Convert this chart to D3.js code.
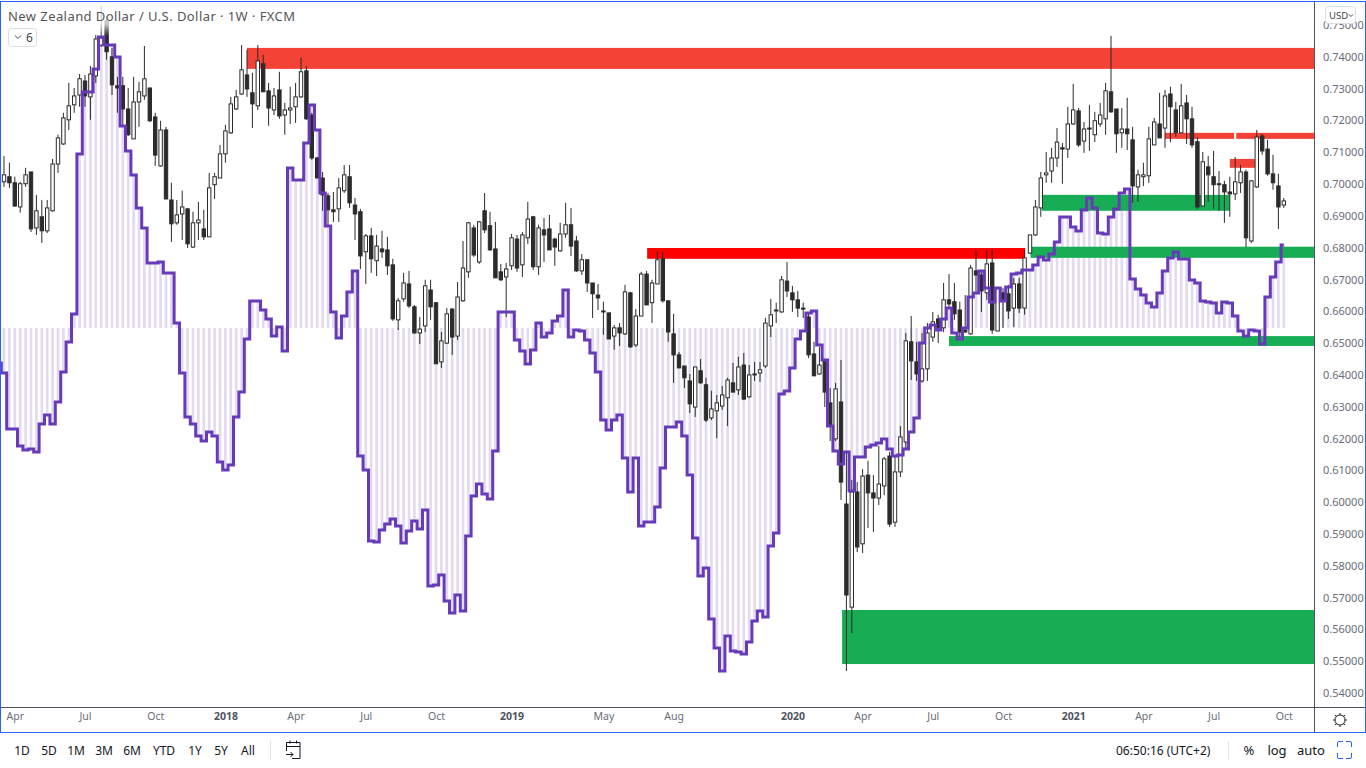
<!DOCTYPE html>
<html>
<head>
<meta charset="utf-8">
<title>NZD/USD 1W</title>
<script src="https://cdn.jsdelivr.net/npm/d3@7"></script>
<style>
  html, body { margin: 0; padding: 0; background: #fff; }
  svg { display: block; }
  text { font-family: "Noto Sans", sans-serif; }
</style>
</head>
<body>
<svg id="chart" width="1366" height="768"></svg>
<script>
// weekly quotes in 1/10000 of a USD, first candle = Mar 2017
var opens = [
  7007,7023,7004,6928,7001,7038,6862,6897,6853,6916,
  7063,7126,7202,7249,7280,7324,7274,7340,7437,7513,
  7400,7309,7309,7236,7142,7258,7277,7302,7211,7057,
  7170,6950,6878,6906,6922,6802,6878,6859,6834,6998,
  7019,7095,7161,7236,7283,7343,7287,7246,7378,7293,
  7233,7296,7217,7233,7243,7274,7356,7217,7082,7019,
  6963,6919,6922,6979,7023,6934,6913,6787,6837,6759,
  6796,6793,6746,6573,6639,6686,6614,6532,6554,6667,
  6627,6441,6500,6607,6522,6633,6724,6862,6755,6916,
  6869,6796,6724,6708,6743,6827,6746,6831,6897,6740,
  6856,6859,6827,6790,6843,6872,6821,6727,6762,6689,
  6651,6601,6595,6522,6548,6529,6658,6494,6585,6717,
  6627,6686,6765,6633,6529,6463,6428,6381,6299,6413,
  6369,6265,6287,6302,6328,6375,6353,6431,6331,6403,
  6406,6428,6554,6604,6598,6695,6658,6636,6610,6582,
  6466,6403,6447,6312,6199,6315,5994,5670,6032,5869,
  6085,6029,6013,6051,6145,5937,6095,6189,6504,6441,
  6381,6419,6519,6576,6548,6636,6630,6604,6541,6529,
  6727,6714,6658,6752,6538,6658,6655,6610,6686,6610,
  6783,6840,6925,7029,7041,7082,7114,7110,7189,7230,
  7135,7176,7155,7189,7205,7290,7236,7161,7173,7139,
  6991,7023,7026,7123,7189,7176,7283,7233,7161,7255,
  7205,7133,6931,7054,7023,7001,6998,6975,6969,7004,
  7038,6821,6991,7151,7110,7032,6994,6934
];
var closes = [
  7029,7004,6931,7001,7029,6859,6916,6853,6925,7063,
  7145,7208,7246,7277,7331,7277,7346,7456,7459,7416,
  7312,7302,7236,7155,7258,7290,7331,7199,7091,7170,
  6953,6875,6903,6928,6812,6878,6887,6834,6988,7023,
  7095,7167,7252,7274,7359,7299,7252,7387,7290,7239,
  7277,7214,7233,7239,7274,7353,7205,7082,7019,6966,
  6919,6913,6988,7029,6941,6906,6774,6837,6765,6805,
  6787,6743,6576,6633,6689,6617,6532,6544,6680,6614,
  6435,6507,6592,6519,6645,6736,6878,6777,6881,6856,
  6793,6705,6699,6733,6831,6736,6840,6890,6740,6862,
  6840,6793,6802,6843,6872,6805,6727,6762,6689,6655,
  6642,6598,6513,6548,6532,6661,6488,6585,6717,6620,
  6689,6762,6633,6535,6463,6422,6391,6309,6425,6375,
  6258,6293,6312,6337,6384,6346,6425,6324,6400,6400,
  6416,6563,6589,6601,6699,6664,6636,6610,6607,6463,
  6397,6431,6346,6243,6356,6063,5708,6032,5859,6082,
  6029,6013,6057,6136,5931,6095,6205,6507,6444,6403,
  6419,6532,6567,6548,6636,6623,6592,6535,6535,6736,
  6714,6664,6749,6541,6673,6636,6601,6686,6610,6768,
  6840,6928,7019,7035,7082,7132,7110,7189,7233,7123,
  7173,7173,7199,7217,7293,7227,7158,7173,7158,6994,
  7029,7029,7142,7195,7145,7277,7243,7161,7246,7205,
  7123,6928,7070,7029,6998,6998,6975,6969,7007,7038,
  6831,7010,7148,7104,7032,7004,6928,6947
];
var highs = [
  7088,7067,7023,7007,7051,7038,6966,6950,6950,7079,
  7155,7224,7318,7302,7346,7343,7371,7469,7560,7526,
  7428,7337,7337,7302,7337,7321,7434,7302,7224,7199,
  7180,7004,6950,6979,6925,6913,6944,6919,7035,7035,
  7123,7186,7274,7296,7437,7422,7350,7437,7406,7318,
  7302,7353,7255,7306,7318,7397,7371,7224,7085,7038,
  6972,6975,7019,7060,7060,6956,6922,6843,6862,6840,
  6853,6834,6765,6642,6721,6727,6620,6582,6699,6699,
  6627,6535,6610,6610,6692,6821,6881,6872,6884,6972,
  6913,6881,6749,6752,6843,6840,6849,6944,6900,6872,
  6894,6903,6831,6878,6941,6925,6837,6780,6762,6689,
  6686,6630,6595,6557,6563,6683,6661,6607,6724,6727,
  6699,6790,6787,6633,6592,6472,6428,6403,6425,6450,
  6391,6350,6337,6365,6391,6438,6457,6469,6431,6441,
  6441,6579,6639,6627,6711,6755,6680,6664,6627,6598,
  6504,6488,6450,6359,6375,6447,6158,6070,6063,6104,
  6130,6085,6177,6142,6158,6148,6239,6532,6585,6504,
  6532,6563,6598,6589,6689,6717,6689,6630,6651,6746,
  6793,6730,6793,6793,6673,6673,6683,6705,6705,6793,
  6840,6950,7038,7101,7114,7176,7129,7243,7315,7239,
  7195,7249,7227,7255,7318,7466,7236,7239,7271,7180,
  7045,7067,7180,7208,7287,7296,7306,7258,7315,7280,
  7243,7148,7101,7088,7104,7041,7010,7023,7085,7060,
  7045,7013,7170,7158,7139,7092,7032,6956
];
var lows = [
  6991,6988,6928,6910,6991,6849,6840,6815,6846,6913,
  7035,7123,7170,7224,7243,7243,7202,7318,7431,7391,
  7280,7224,7180,7151,7142,7180,7265,7195,7057,7054,
  6953,6818,6872,6824,6799,6799,6824,6824,6834,6953,
  7019,7067,7158,7233,7280,7274,7176,7233,7290,7183,
  7217,7205,7155,7189,7192,7271,7202,7076,7019,6916,
  6865,6881,6881,6972,6925,6824,6733,6686,6721,6711,
  6768,6714,6570,6541,6630,6610,6529,6497,6535,6573,
  6435,6422,6497,6463,6510,6630,6705,6771,6749,6846,
  6790,6705,6695,6582,6730,6724,6708,6812,6730,6714,
  6755,6793,6743,6787,6831,6774,6724,6714,6661,6579,
  6604,6526,6513,6479,6491,6526,6485,6488,6585,6620,
  6563,6686,6627,6504,6375,6422,6359,6280,6268,6372,
  6252,6258,6201,6290,6239,6346,6337,6321,6328,6381,
  6378,6422,6519,6563,6595,6645,6598,6582,6579,6453,
  6397,6400,6299,6192,6192,6007,5469,5588,5843,5840,
  5919,5906,5991,6022,5922,5922,6079,6170,6384,6381,
  6375,6381,6504,6500,6535,6610,6573,6519,6532,6526,
  6661,6598,6636,6529,6538,6548,6576,6551,6595,6589,
  6780,6837,6897,7004,7004,7054,7001,7082,7186,7117,
  7098,7104,7132,7180,7155,7224,7098,7114,7107,6941,
  6944,6994,7004,7123,7145,7114,7132,7148,7161,7126,
  7114,6922,6931,6944,6922,6916,6878,6897,6950,6972,
  6802,6815,6988,7092,7026,6982,6859,6925
];

// purple step indicator, one value a week
var oscBefore = -17.5;
var oscValues = [
  -22.5,-50.5,-50.5,-59,-61,-60.5,-62,-48,-43.5,-48,
  -37,-22,-7,7,87,118,118,129.5,145.5,141.5,
  141.5,135.5,101,88.5,76.5,60,50,32.5,32.5,33,
  27.5,27.5,2.5,-22.5,-44.5,-48,-54,-56.5,-52,-54,
  -67,-71,-68.5,-44.5,-32,-5.5,13.5,13.5,9,4.5,
  -4,.5,-11.5,80,74,74,92.5,111.5,99,67.5,
  51,8,-5,6,18,28.5,-64,-71,-106.5,-107,
  -101,-98,-95.5,-99,-107.5,-101.5,-96.5,-100.5,-91,-129,
  -128.5,-123.5,-136.5,-142.5,-133.5,-141.5,-104,-84,-78,-83,
  -85.5,-61.5,8,8,8,-6,-11.5,-18,-11,2.5,
  -4.5,-2.5,3.5,6,19,-4.5,-1,-1.5,-6,-12.5,
  -22,-46,-51,-46,-43.5,-65,-82,-65,-99,-97,
  -97,-89.5,-70,-49.5,-49.5,-47,-54,-73.5,-105,-124,
  -120,-145.5,-160,-171.5,-154,-161.5,-162,-163,-157,-146.5,
  -141.5,-144.5,-109,-102.5,-33,-31.5,-20,-5.5,-1.5,7.5,
  8.5,-8.5,-16,-49,-61.5,-68,-62,-81.5,-64.5,-64.5,
  -59.5,-58.5,-57.5,-55.5,-60.5,-64,-63.5,-60.5,-52,-45,
  -7.5,0,1.5,-1,4.5,10,-2.5,-5.5,0,15.5,
  17.5,28.5,20,13,20,13.5,20.5,27,27.5,29,
  29,31.5,35.5,34,37,43,55.5,55.5,50.5,48.5,
  59,65,60,47.5,47,55.5,59.5,67.5,69.5,24.5,
  19.5,16.5,12.5,10.5,17.5,28.5,35,38,34.5,34.5,
  24,22.5,13.5,13,12.5,7.5,13,12.5,6,-1.5,
  -4,-1,-1.5,-8,15.5,25.5,33,41.5
];

// supply / demand boxes: start week, end week, top and bottom quote, colour
var zoneFrom   = [45, 119.1, 215, 228.2, 227, 155.2, 175, 190.1, 192.2];
var zoneTo     = [243, 189.1, 227.8, 243, 231.7, 243, 243, 243, 227];
var zoneTop    = [7428, 6799, 7161, 7161, 7079, 5661, 6522, 6803, 6966];
var zoneBottom = [7362, 6765, 7142, 7142, 7051, 5491, 6491, 6768, 6916];
var zoneColor  = ['#f44336','#ff0000','#f44336','#f44336','#f44336','#17ad54','#17ad54','#17ad54','#17ad54'];

var priceTicks = [];
for (var t = 54; t <= 75; t++) priceTicks.push(t / 100);

var timeTickWeeks  = [2,15,28,41,54,67,80,94,111,124,146,159,172,185,198,211,224,237];
var timeTickLabels = ['Apr','Jul','Oct','2018','Apr','Jul','Oct','2019','May','Aug','2020','Apr','Jul','Oct','2021','Apr','Jul','Oct'];

var rangeButtons = ['1D','5D','1M','3M','6M','YTD','1Y','5Y','All'];
var rangeButtonX = [22,49,76,104,132,164,195,221,248];

var plotRight = 1314, plotBottom = 707;

var svg = d3.select('#chart');

var x = d3.scaleLinear().domain([0, 237]).range([4, 1283.8]);
var y = d3.scaleLinear().domain([0.54, 0.75]).range([693, 25]);
var yOsc = d3.scaleLinear().domain([-200, 150]).range([728, 28]);

function quote(v){ return y(v / 10000); }

var defs = svg.append('defs');
defs.append('clipPath').attr('id', 'plot')
  .append('rect').attr('x', 1).attr('y', 2).attr('width', plotRight - 1).attr('height', plotBottom - 2);
var fade = defs.append('linearGradient').attr('id', 'legendFade')
  .attr('x1', 0).attr('x2', 0).attr('y1', 0).attr('y2', 1);
fade.append('stop').attr('offset', '0.6').attr('stop-color', '#fff').attr('stop-opacity', 0.75);
fade.append('stop').attr('offset', '1').attr('stop-color', '#fff').attr('stop-opacity', 0);

var plot = svg.append('g').attr('clip-path', 'url(#plot)');

// histogram
plot.append('g').selectAll('rect')
  .data(oscValues)
  .join('rect')
  .attr('x', function(d, i){ return x(i) - 1.3; })
  .attr('width', 2.6)
  .attr('y', function(d){ return Math.min(yOsc(d), yOsc(0)); })
  .attr('height', function(d){ return Math.abs(yOsc(d) - yOsc(0)); })
  .attr('fill', '#e1daf1');

// zones
plot.append('g').selectAll('rect')
  .data(zoneFrom)
  .join('rect')
  .attr('x', function(d){ return x(d); })
  .attr('width', function(d, i){ return x(zoneTo[i]) - x(d); })
  .attr('y', function(d, i){ return quote(zoneTop[i]); })
  .attr('height', function(d, i){ return quote(zoneBottom[i]) - quote(zoneTop[i]); })
  .attr('fill', function(d, i){ return zoneColor[i]; });

// candles
var candles = plot.append('g').selectAll('g')
  .data(opens)
  .join('g');

candles.append('line')
  .attr('x1', function(d, i){ return x(i); })
  .attr('x2', function(d, i){ return x(i); })
  .attr('y1', function(d, i){ return quote(highs[i]); })
  .attr('y2', function(d, i){ return quote(lows[i]); })
  .attr('stroke', '#2b2b2b');

candles.append('rect')
  .attr('x', function(d, i){ return x(i) - 1.7; })
  .attr('width', 3.4)
  .attr('y', function(d, i){ return quote(Math.max(d, closes[i])); })
  .attr('height', function(d, i){ return Math.max(1, Math.abs(quote(d) - quote(closes[i]))); })
  .attr('fill', function(d, i){ return closes[i] >= d ? '#fff' : '#2b2b2b'; })
  .attr('stroke', '#2b2b2b');

// indicator line
var stepLine = d3.line()
  .x(function(d, i){ return x(i - 1); })
  .y(function(d){ return yOsc(d); })
  .curve(d3.curveStep);

plot.append('path')
  .datum([oscBefore].concat(oscValues))
  .attr('d', stepLine)
  .attr('fill', 'none')
  .attr('stroke', '#673ab7')
  .attr('stroke-width', 3);

// legend
svg.append('rect').attr('x', 5).attr('y', 6).attr('width', 325).attr('height', 30)
  .attr('fill', 'url(#legendFade)');
svg.append('text').attr('x', 8).attr('y', 20.5)
  .attr('font-size', 13).attr('letter-spacing', 0.43).attr('fill', '#555')
  .text('New Zealand Dollar / U.S. Dollar · 1W · FXCM');
svg.append('rect').attr('x', 8.5).attr('y', 28.5).attr('width', 28).attr('height', 18).attr('rx', 3)
  .attr('fill', '#fff').attr('stroke', '#dcdde2');
svg.append('path').attr('d', 'M15 35.5l3 3 3-3').attr('fill', 'none').attr('stroke', '#444');
svg.append('text').attr('x', 26).attr('y', 41.5).attr('font-size', 12).attr('fill', '#444').text('6');

// frame
svg.append('line').attr('x1', plotRight + 0.5).attr('x2', plotRight + 0.5).attr('y1', 1).attr('y2', 732)
  .attr('stroke', '#50535e');
svg.append('line').attr('x1', 1).attr('x2', 1365).attr('y1', plotBottom + 0.5).attr('y2', plotBottom + 0.5)
  .attr('stroke', '#50535e');
svg.append('rect').attr('x', 0.5).attr('y', 1.5).attr('width', 1365).attr('height', 731)
  .attr('fill', 'none').attr('stroke', '#2962ff');

// price axis
var priceAxis = d3.axisRight(y)
  .tickValues(priceTicks)
  .tickFormat(d3.format('.5f'))
  .tickSize(0)
  .tickPadding(0);
var priceG = svg.append('g').attr('transform', 'translate(' + (plotRight + 9) + ',0)').call(priceAxis);
priceG.select('.domain').remove();
priceG.selectAll('text').attr('font-size', 11).attr('fill', '#6a6d78');

svg.append('rect').attr('x', 1325.5).attr('y', 6.5).attr('width', 30).attr('height', 17).attr('rx', 3)
  .attr('fill', '#fff').attr('stroke', '#dcdde2');
svg.append('text').attr('x', 1329).attr('y', 18.5).attr('font-size', 9.5).attr('fill', '#444').text('USD');
svg.append('path').attr('d', 'M1349 14.5l2 2 2-2').attr('fill', 'none').attr('stroke', '#444');

// time axis
var timeAxis = d3.axisBottom(x)
  .tickValues(timeTickWeeks)
  .tickFormat(function(d, i){ return timeTickLabels[i]; })
  .tickSize(0)
  .tickPadding(6);
var timeG = svg.append('g').attr('transform', 'translate(0,' + plotBottom + ')').call(timeAxis);
timeG.select('.domain').remove();
timeG.selectAll('text')
  .attr('font-size', 10.5)
  .attr('fill', function(d, i){ return timeTickLabels[i].length == 4 ? '#50535e' : '#6a6d78'; })
  .attr('font-weight', function(d, i){ return timeTickLabels[i].length == 4 ? 700 : 400; });

// gear icon
var gear = svg.append('g').attr('transform', 'translate(1340,720)').attr('fill', 'none').attr('stroke', '#222');
gear.append('circle').attr('r', 5);
[0,45,90,135,180,225,270,315].forEach(function(a){
  gear.append('line').attr('x1', 5).attr('x2', 7).attr('transform', 'rotate(' + a + ')');
});

// bottom toolbar
svg.append('g').selectAll('text')
  .data(rangeButtons)
  .join('text')
  .attr('x', function(d, i){ return rangeButtonX[i]; })
  .attr('y', 755)
  .attr('text-anchor', 'middle')
  .attr('font-size', 12)
  .attr('fill', '#131722')
  .text(function(d){ return d; });

svg.append('line').attr('x1', 270.5).attr('x2', 270.5).attr('y1', 741).attr('y2', 760).attr('stroke', '#e0e3eb');
svg.append('path')
  .attr('d', 'M286.5 751v-8.5h13.5v16h-8M286.5 746.5h13.5M290 740.5v3M296.5 740.5v3M286 754.5h7M290.5 752l2.5 2.5-2.5 2.5')
  .attr('fill', 'none').attr('stroke', '#131722');

svg.append('text').attr('x', 1116).attr('y', 755).attr('font-size', 12).attr('fill', '#131722').text('06:50:16 (UTC+2)');
svg.append('line').attr('x1', 1228.5).attr('x2', 1228.5).attr('y1', 741).attr('y2', 760).attr('stroke', '#e0e3eb');
svg.append('text').attr('x', 1249).attr('y', 755).attr('text-anchor', 'middle').attr('font-size', 13).attr('fill', '#131722').text('%');
svg.append('text').attr('x', 1277).attr('y', 755).attr('text-anchor', 'middle').attr('font-size', 13).attr('fill', '#131722').text('log');
svg.append('text').attr('x', 1311).attr('y', 755).attr('text-anchor', 'middle').attr('font-size', 13).attr('fill', '#131722').text('auto');
svg.append('path')
  .attr('d', 'M1337.5 747v-4a1.5 1.5 0 0 1 1.5-1.5h4M1346 741.5h4a1.5 1.5 0 0 1 1.5 1.5v4M1351.5 753v4a1.5 1.5 0 0 1-1.5 1.5h-4M1343 758.5h-4a1.5 1.5 0 0 1-1.5-1.5v-4')
  .attr('fill', 'none').attr('stroke', '#2962ff');
</script>
</body>
</html>
